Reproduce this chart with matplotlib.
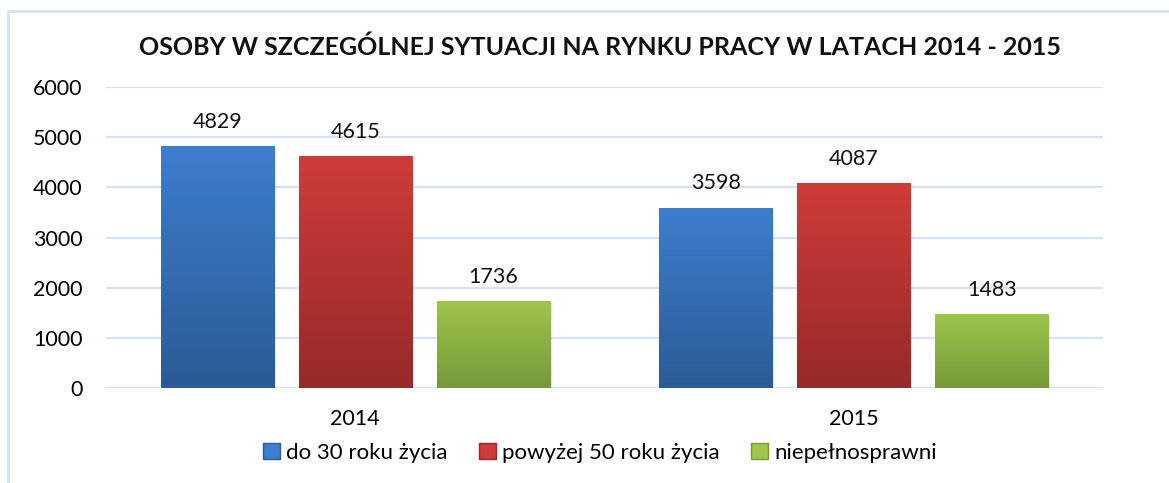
import matplotlib
matplotlib.use("Agg")
import matplotlib.pyplot as plt
import numpy as np
from matplotlib.patches import Rectangle
from matplotlib.colors import LinearSegmentedColormap

plt.rcParams['font.family'] = ['Lato', 'DejaVu Sans']

years = ["2014", "2015"]
series = ["do 30 roku życia", "powyżej 50 roku życia", "niepełnosprawni"]
do30 = [4829, 3598]
pow50 = [4615, 4087]
niepeln = [1736, 1483]

# kolory gradientu (gora, dol)
GRAD = [("#3d7ecd", "#2b5b95"), ("#ce3c39", "#962a29"), ("#9ec54c", "#76993a")]

W, H = 1169, 483
fig = plt.figure(figsize=(W / 100, H / 100), dpi=100)
ax = fig.add_axes([106 / W, 1 - 388 / H, (1103 - 106) / W, (388 - 87) / H])

# ramka wykresu
fig.patches.append(Rectangle((8 / W, -0.05), 1.2, 1 - 11 / H + 0.05, transform=fig.transFigure,
                             fill=False, edgecolor="#d6e2f3", lw=2, zorder=0))

x = np.arange(len(years))
width = 0.227
step = 0.277
values = [do30, pow50, niepeln]

for i, vals in enumerate(values):
    offset = (i - 1) * step
    cmap = LinearSegmentedColormap.from_list(f"g{i}", [GRAD[i][1], GRAD[i][0]])
    bars = ax.bar(x + offset, vals, width, color="none", zorder=3)
    for b, v in zip(bars, vals):
        x0 = b.get_x()
        # cien
        ax.add_patch(Rectangle((x0 + 0.004, -40), width, v, facecolor="#7f7f7f", alpha=0.18,
                               lw=0, zorder=2))
        grad = np.linspace(0, 1, 256).reshape(-1, 1)
        im = ax.imshow(grad, cmap=cmap, origin="lower", aspect="auto",
                       extent=[x0, x0 + width, 0, v], zorder=3)
        im.set_clip_path(b)
        ax.text(x0 + width / 2, v + 280, str(v), ha="center", va="bottom", fontsize=15.5, color="#111111")

ax.set_xlim(-0.5, 1.5)
ax.set_ylim(0, 6000)
ax.set_yticks(range(0, 6001, 1000))
ax.set_xticks(x)
ax.set_xticklabels(years, fontsize=15.5)
ax.tick_params(axis="y", labelsize=15.5, length=0, pad=17)
ax.tick_params(axis="x", length=0, pad=15)
ax.grid(axis="y", color="#d6e2f3", lw=1.6, zorder=0)
ax.set_axisbelow(True)
for s in ax.spines.values():
    s.set_visible(False)

fig.text(600 / W, 1 - 47 / H, "OSOBY W SZCZEGÓLNEJ SYTUACJI NA RYNKU PRACY W LATACH 2014 - 2015",
         ha="center", va="center", fontsize=18, fontweight="bold", color="#111111")

handles = [Rectangle((0, 0), 1, 1, facecolor=GRAD[i][0], edgecolor=GRAD[i][1]) for i in range(3)]
fig.legend(handles, series, loc="center", bbox_to_anchor=(600 / W, 1 - 453 / H), ncol=3,
           frameon=False, fontsize=16, handlelength=0.75, handleheight=0.75, handletextpad=0.3,
           columnspacing=1.4)

fig.savefig("out.png", dpi=100)
